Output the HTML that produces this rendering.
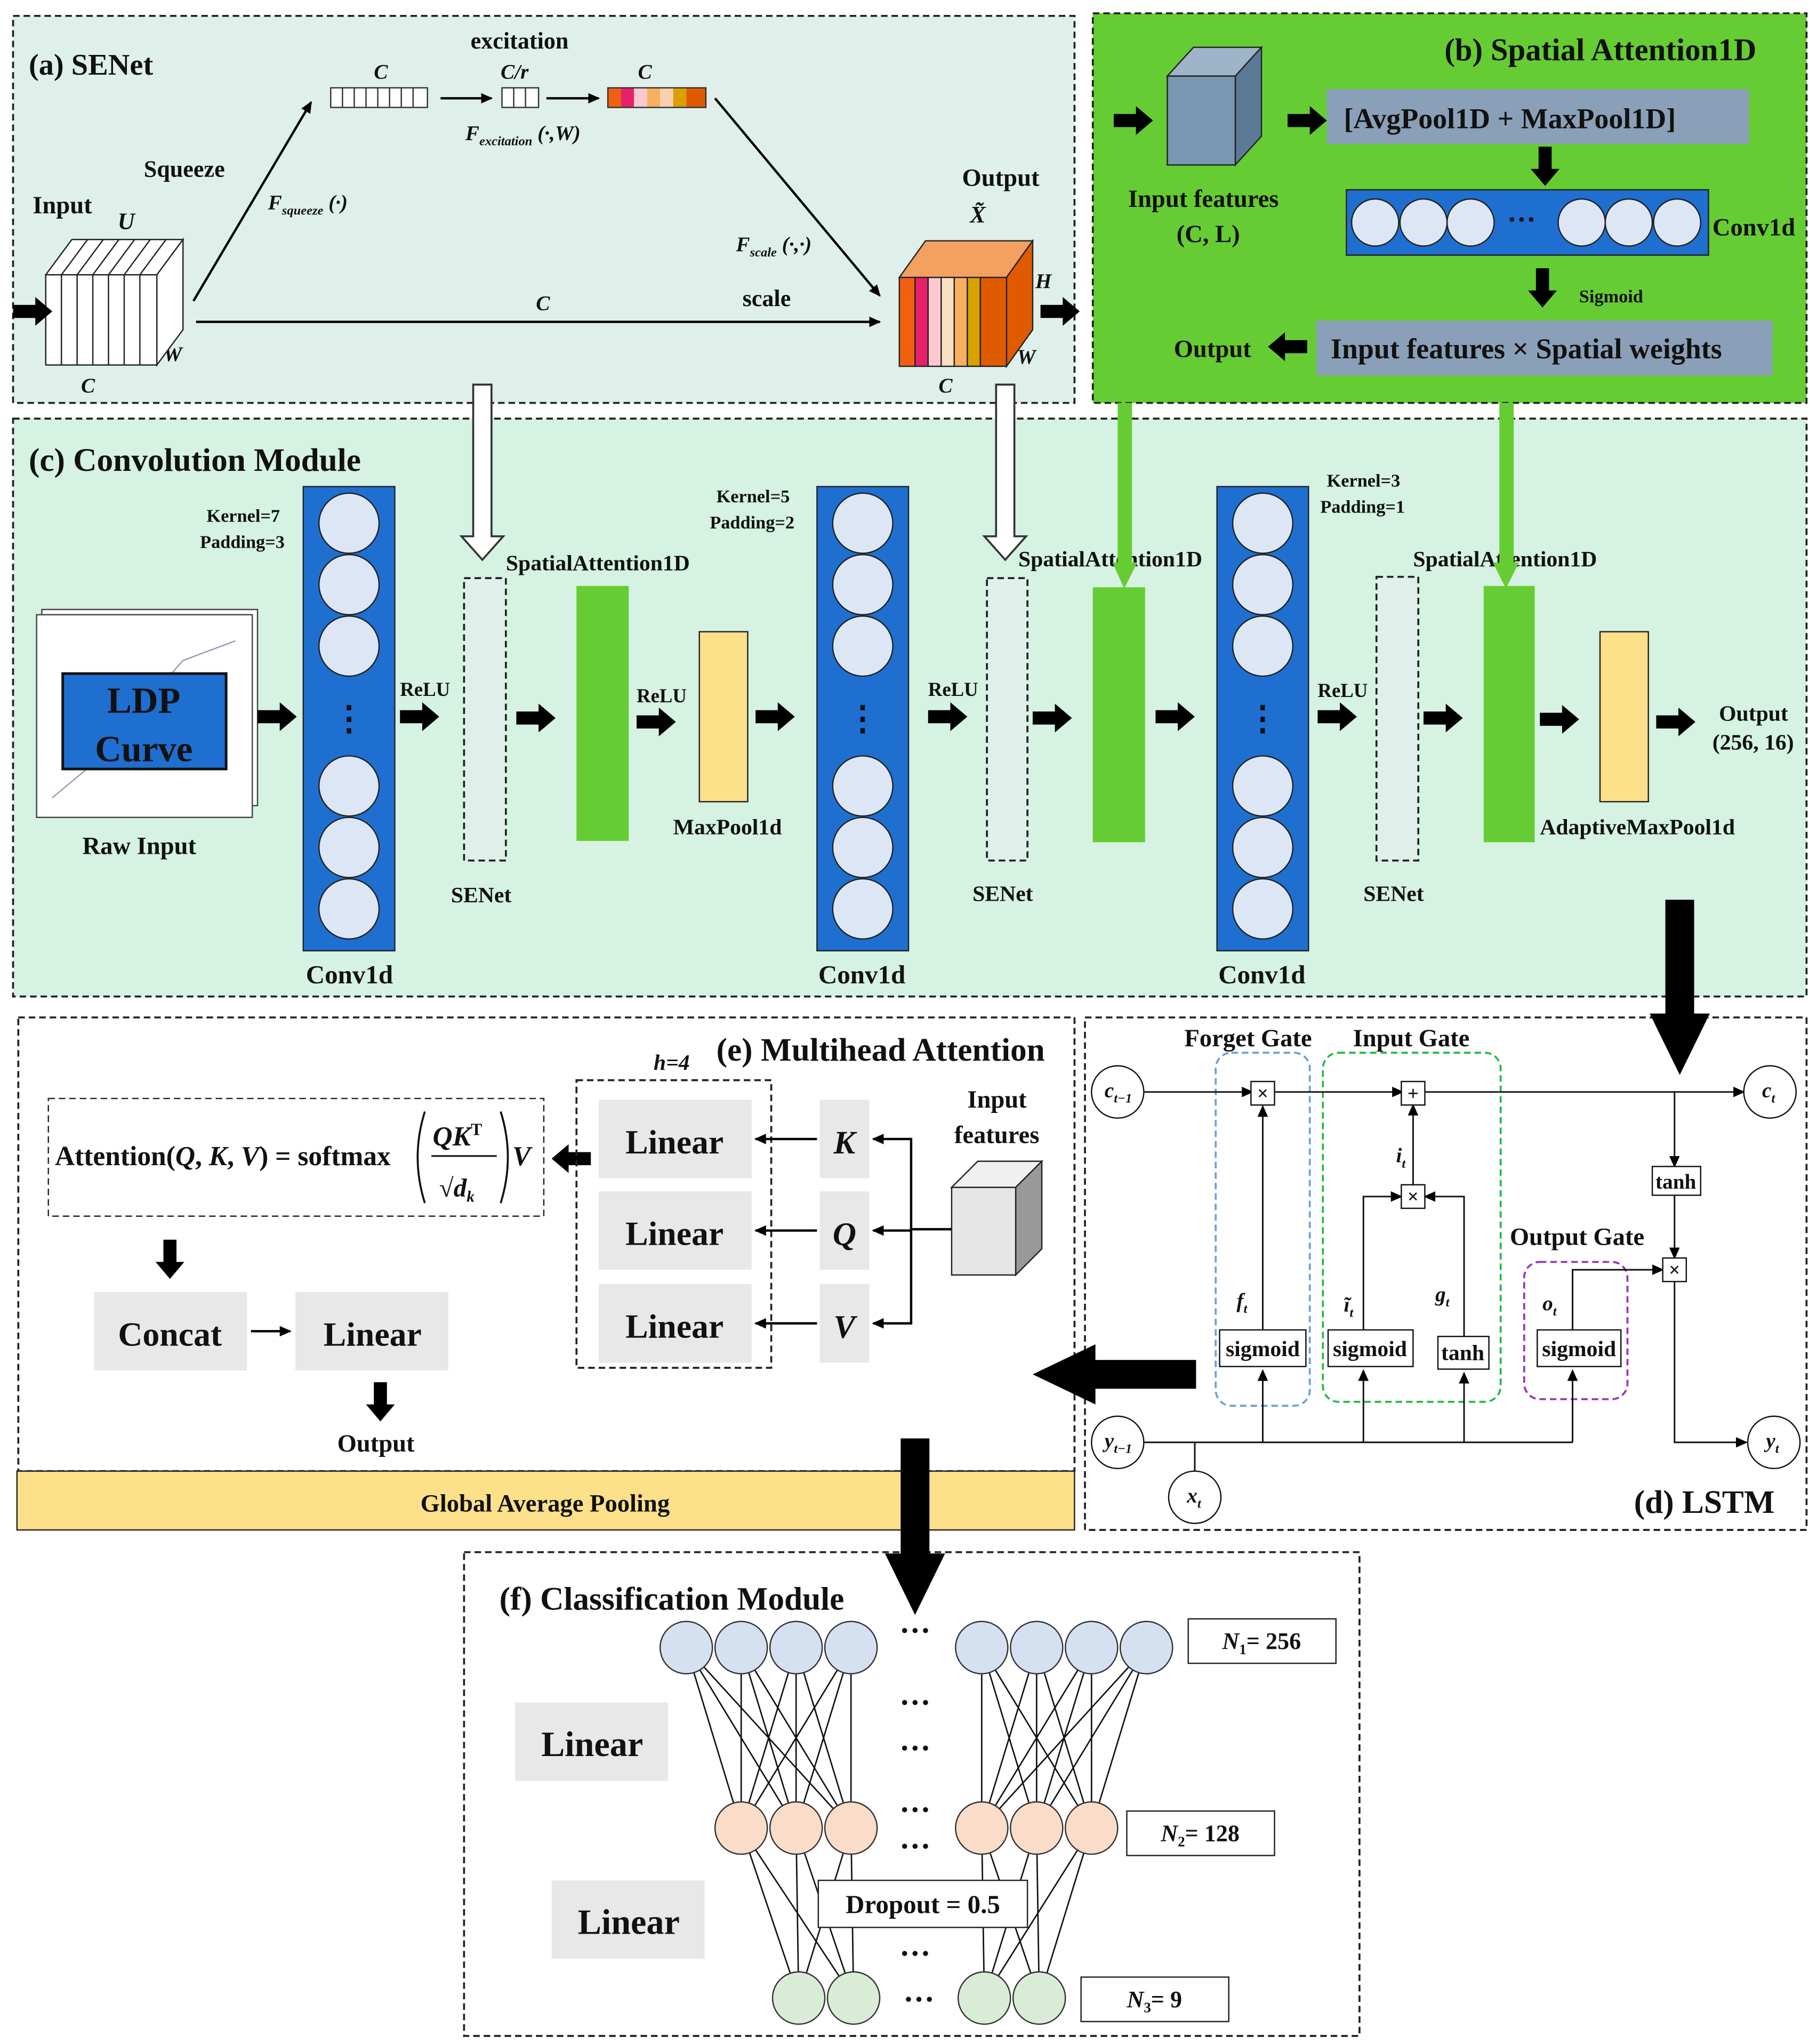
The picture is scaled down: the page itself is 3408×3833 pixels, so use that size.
<!DOCTYPE html>
<html><head><meta charset="utf-8"><style>
html,body{margin:0;padding:0;background:#fff}
svg{display:block}
text{font-family:"Liberation Serif",serif;font-weight:bold;fill:#111}
.it{font-style:italic}
</style></head><body>
<svg width="3408" height="3833" viewBox="0 0 1390 1563" xmlns="http://www.w3.org/2000/svg">
<defs>
<marker id="ah" markerWidth="10" markerHeight="10" refX="8" refY="5" orient="auto" markerUnits="userSpaceOnUse"><path d="M0,1 L9,5 L0,9 z" fill="#000"/></marker>
<g id="fa"><polygon points="0,-5 17,-5 17,-11 30,0 17,11 17,5 0,5" fill="#000"/></g>
</defs>

<!-- Panel a -->
<rect x="10" y="12" width="812" height="296" fill="#dff0ea" stroke="#222" stroke-dasharray="5,3" stroke-width="1.5"/>
<text x="22" y="57" font-size="23">(a)  SENet</text>
<text x="360" y="37" font-size="18">excitation</text>
<text x="110" y="135" font-size="18">Squeeze</text>
<text x="25" y="163" font-size="19">Input</text>
<text x="736" y="142" font-size="19">Output</text>
<text x="568" y="234" font-size="18">scale</text>
<text x="90" y="175" font-size="18" class="it">U</text>
<text x="116" y="238" font-size="16" class="it">H</text>
<text x="125" y="276" font-size="16" class="it">W</text>
<text x="62" y="300" font-size="16" class="it">C</text>
<text x="410" y="237" font-size="16" class="it">C</text>
<text x="286" y="60" font-size="16" class="it">C</text>
<text x="383" y="60" font-size="16" class="it">C/r</text>
<text x="488" y="60" font-size="16" class="it">C</text>
<text x="356" y="107" font-size="16" class="it">F<tspan font-size="10" dy="4">excitation</tspan><tspan dy="-4"> (·,W)</tspan></text>
<text x="205" y="160" font-size="16" class="it">F<tspan font-size="10" dy="4">squeeze</tspan><tspan dy="-4"> (·)</tspan></text>
<text x="563" y="192" font-size="16" class="it">F<tspan font-size="10" dy="4">scale</tspan><tspan dy="-4"> (·,·)</tspan></text>
<text x="742" y="170" font-size="18" class="it">X̃</text>
<text x="792" y="220" font-size="16" class="it">H</text>
<text x="778" y="278" font-size="16" class="it">W</text>
<text x="718" y="300" font-size="16" class="it">C</text>
<polygon points="35,210 55,183 140,183 120,210" fill="#fff" stroke="#222"/>
<polygon points="120,210 140,183 140,252 120,279" fill="#fff" stroke="#222"/>
<rect x="35" y="210" width="85" height="69" fill="#fff" stroke="#222"/>
<g stroke="#222"><line x1="47" y1="210" x2="47" y2="279"/><line x1="59" y1="210" x2="59" y2="279"/><line x1="71" y1="210" x2="71" y2="279"/><line x1="83" y1="210" x2="83" y2="279"/><line x1="95" y1="210" x2="95" y2="279"/><line x1="107" y1="210" x2="107" y2="279"/>
<line x1="67" y1="183" x2="47" y2="210"/><line x1="79" y1="183" x2="59" y2="210"/><line x1="91" y1="183" x2="71" y2="210"/><line x1="103" y1="183" x2="83" y2="210"/><line x1="115" y1="183" x2="95" y2="210"/><line x1="127" y1="183" x2="107" y2="210"/></g>
<polygon points="688,212 708,184 790,184 770,212" fill="#f3a060" stroke="#222"/>
<polygon points="770,212 790,184 790,252 770,280" fill="#e05a00" stroke="#222"/>
<rect x="688" y="212" width="12" height="68" fill="#f06010" stroke="#222"/>
<rect x="700" y="212" width="10" height="68" fill="#e8206a" stroke="#222"/>
<rect x="710" y="212" width="10" height="68" fill="#fbc8d0" stroke="#222"/>
<rect x="720" y="212" width="10" height="68" fill="#f9e0c0" stroke="#222"/>
<rect x="730" y="212" width="10" height="68" fill="#f6b060" stroke="#222"/>
<rect x="740" y="212" width="10" height="68" fill="#d9a000" stroke="#222"/>
<rect x="750" y="212" width="20" height="68" fill="#e05a00" stroke="#222"/>
<g stroke="#333" fill="#fff"><rect x="253" y="67" width="74" height="15"/><rect x="384" y="67" width="28" height="15"/></g>
<g stroke="#333"><line x1="262" y1="67" x2="262" y2="82"/><line x1="271" y1="67" x2="271" y2="82"/><line x1="280" y1="67" x2="280" y2="82"/><line x1="289" y1="67" x2="289" y2="82"/><line x1="298" y1="67" x2="298" y2="82"/><line x1="307" y1="67" x2="307" y2="82"/><line x1="316" y1="67" x2="316" y2="82"/><line x1="393" y1="67" x2="393" y2="82"/><line x1="402" y1="67" x2="402" y2="82"/></g>
<rect x="465" y="67" width="10" height="15" fill="#f06010"/><rect x="475" y="67" width="10" height="15" fill="#e8206a"/><rect x="485" y="67" width="10" height="15" fill="#fbc8d0"/><rect x="495" y="67" width="10" height="15" fill="#f6b060"/><rect x="505" y="67" width="10" height="15" fill="#fbd0b0"/><rect x="515" y="67" width="10" height="15" fill="#d9a000"/><rect x="525" y="67" width="15" height="15" fill="#e05a00"/>
<rect x="465" y="67" width="75" height="15" fill="none" stroke="#333"/>
<g stroke="#000" stroke-width="1.8" marker-end="url(#ah)" fill="none">
<line x1="148" y1="230" x2="238" y2="78"/><line x1="337" y1="75" x2="376" y2="75"/><line x1="418" y1="75" x2="458" y2="75"/>
<line x1="547" y1="75" x2="673" y2="226"/><line x1="150" y1="246" x2="673" y2="246"/></g>
<use href="#fa" x="10" y="238"/><use href="#fa" x="796" y="238"/>

<!-- Panel b -->
<rect x="836" y="10" width="546" height="298" fill="#66cc33" stroke="#222" stroke-dasharray="5,3" stroke-width="1.5"/>
<text x="1105" y="46" font-size="24">(b) Spatial Attention1D</text>
<polygon points="893,58 913,36 965,36 945,58" fill="#9db4c9" stroke="#222"/>
<polygon points="945,58 965,36 965,104 945,126" fill="#5c7a96" stroke="#222"/>
<rect x="893" y="58" width="52" height="68" fill="#7a96b0" stroke="#222"/>
<text x="863" y="158" font-size="19">Input features</text>
<text x="900" y="185" font-size="19">(C, L)</text>
<rect x="1015" y="68" width="323" height="42" fill="#8aa0b8"/>
<text x="1028" y="98" font-size="22">[AvgPool1D + MaxPool1D]</text>
<rect x="1030" y="145" width="277" height="50" fill="#1e6fd0" stroke="#222"/>
<g fill="#dce6f4" stroke="#222"><circle cx="1052" cy="170" r="18"/><circle cx="1089" cy="170" r="18"/><circle cx="1125" cy="170" r="18"/><circle cx="1210" cy="170" r="18"/><circle cx="1246" cy="170" r="18"/><circle cx="1283" cy="170" r="18"/></g>
<text x="1153" y="175" font-size="22">···</text>
<text x="1310" y="180" font-size="19">Conv1d</text>
<text x="1208" y="231" font-size="14">Sigmoid</text>
<rect x="1007" y="245" width="349" height="42" fill="#8aa0b8"/>
<text x="1018" y="274" font-size="22">Input features × Spatial weights</text>
<text x="898" y="273" font-size="19">Output</text>
<use href="#fa" x="852" y="92"/><use href="#fa" x="985" y="92"/>
<use href="#fa" transform="translate(1182,112) rotate(90)"/><use href="#fa" transform="translate(1180,205) rotate(90)"/>
<use href="#fa" transform="translate(1000,265) rotate(180)"/>

<!-- Panel c -->
<rect x="10" y="320" width="1372" height="442" fill="#d5f2e3" stroke="#222" stroke-dasharray="5,3" stroke-width="1.5"/>
<text x="22" y="360" font-size="25">(c) Convolution Module</text>
<rect x="32" y="466" width="165" height="150" fill="#fff" stroke="#444"/>
<rect x="28" y="470" width="165" height="155" fill="#fff" stroke="#444"/>
<polyline points="40,610 70,585 100,550 140,505 180,490" fill="none" stroke="#99b"/>
<rect x="48" y="515" width="125" height="73" fill="#1e6fd0" stroke="#111" stroke-width="2"/>
<text x="110" y="545" font-size="28" text-anchor="middle">LDP</text>
<text x="110" y="582" font-size="28" text-anchor="middle">Curve</text>
<text x="63" y="653" font-size="19">Raw Input</text>
<g id="cv">
<rect x="232" y="372" width="70" height="355" fill="#1e6fd0" stroke="#222"/>
<g fill="#dce6f4" stroke="#222"><circle cx="267" cy="400" r="23"/><circle cx="267" cy="447" r="23"/><circle cx="267" cy="494" r="23"/><circle cx="267" cy="601" r="23"/><circle cx="267" cy="648" r="23"/><circle cx="267" cy="695" r="23"/></g>
<text x="267" y="558" font-size="26" text-anchor="middle" fill="#000">⋮</text>
</g>
<use href="#cv" x="393"/><use href="#cv" x="699"/>
<text x="234" y="752" font-size="20">Conv1d</text><text x="626" y="752" font-size="20">Conv1d</text><text x="932" y="752" font-size="20">Conv1d</text>
<g font-size="14"><text x="158" y="399">Kernel=7</text><text x="153" y="419">Padding=3</text>
<text x="548" y="384">Kernel=5</text><text x="543" y="404">Padding=2</text>
<text x="1015" y="372">Kernel=3</text><text x="1010" y="392">Padding=1</text></g>
<g fill="#dff0ea" stroke="#222" stroke-dasharray="5,3" stroke-width="1.5"><rect x="355" y="442" width="32" height="216"/><rect x="755" y="442" width="31" height="216"/><rect x="1053" y="441" width="32" height="217"/></g>
<g font-size="17"><text x="345" y="690">SENet</text><text x="744" y="689">SENet</text><text x="1043" y="689">SENet</text>
<text x="387" y="436">SpatialAttention1D</text><text x="779" y="433">SpatialAttention1D</text><text x="1081" y="433">SpatialAttention1D</text>
<text x="515" y="638">MaxPool1d</text><text x="1178" y="638">AdaptiveMaxPool1d</text>
<text x="1315" y="551">Output</text><text x="1310" y="573">(256, 16)</text></g>
<g font-size="15"><text x="306" y="532">ReLU</text><text x="487" y="537">ReLU</text><text x="710" y="532">ReLU</text><text x="1008" y="533">ReLU</text></g>
<g fill="#66cc33"><rect x="441" y="448" width="40" height="195"/><rect x="836" y="449" width="40" height="195"/><rect x="1135" y="448" width="39" height="196"/></g>
<g fill="#fde08a" stroke="#222"><rect x="535" y="483" width="37" height="130"/><rect x="1224" y="483" width="37" height="130"/></g>
<use href="#fa" x="197" y="548"/><use href="#fa" x="306" y="548"/><use href="#fa" x="395" y="549"/><use href="#fa" x="487" y="552"/>
<use href="#fa" x="578" y="548"/><use href="#fa" x="710" y="548"/><use href="#fa" x="790" y="549"/><use href="#fa" x="884" y="548"/>
<use href="#fa" x="1008" y="548"/><use href="#fa" x="1089" y="549"/><use href="#fa" x="1178" y="550"/><use href="#fa" x="1267" y="552"/>
<g fill="#fff" stroke="#333" stroke-width="1.5">
<polygon points="362,294 376,294 376,410 385,410 369,428 353,410 362,410"/>
<polygon points="762,294 776,294 776,410 785,410 769,428 753,410 762,410"/></g>
<g fill="#66cc33"><rect x="855" y="308" width="11" height="125"/><polygon points="851,430 870,430 860,450"/>
<rect x="1147" y="308" width="11" height="125"/><polygon points="1142,430 1162,430 1152,450"/></g>

<!-- Panel e -->
<rect x="14" y="778" width="808" height="347" fill="#fff" stroke="#222" stroke-dasharray="5,3" stroke-width="1.5"/>
<rect x="13" y="1125" width="809" height="45" fill="#fde08a" stroke="#222"/>
<text x="417" y="1156" font-size="19" text-anchor="middle">Global Average Pooling</text>
<text x="548" y="811" font-size="25">(e) Multihead Attention</text>
<text x="500" y="818" font-size="17" class="it">h=4</text>
<rect x="37" y="840" width="379" height="90" fill="#fff" stroke="#222" stroke-dasharray="5,3"/>
<text x="42" y="891" font-size="21" font-weight="normal">Attention(<tspan class="it" font-weight="bold">Q</tspan>, <tspan class="it" font-weight="bold">K</tspan>, <tspan class="it" font-weight="bold">V</tspan>) = softmax</text>
<path d="M325,850 Q314,885 325,920" fill="none" stroke="#111" stroke-width="1.5"/><path d="M383,850 Q394,885 383,920" fill="none" stroke="#111" stroke-width="1.5"/>
<text x="331" y="876" font-size="21" class="it">QK<tspan font-size="13" dy="-8" font-style="normal">T</tspan></text>
<line x1="330" y1="884" x2="380" y2="884" stroke="#111" stroke-width="1.3"/>
<text x="336" y="915" font-size="20" font-weight="normal">√<tspan class="it">d<tspan font-size="12" dy="4">k</tspan></tspan></text>
<text x="392" y="891" font-size="21" class="it">V</text>
<use href="#fa" transform="translate(452,886) rotate(180)"/>
<use href="#fa" transform="translate(130,948) rotate(90)"/>
<g fill="#e8e8e8"><rect x="72" y="988" width="117" height="60"/><rect x="226" y="988" width="117" height="60"/>
<rect x="458" y="841" width="117" height="60"/><rect x="458" y="911" width="117" height="60"/><rect x="458" y="982" width="117" height="60"/>
<rect x="627" y="841" width="38" height="60"/><rect x="627" y="911" width="38" height="60"/><rect x="627" y="982" width="38" height="60"/></g>
<g font-size="26"><text x="130" y="1029" text-anchor="middle">Concat</text><text x="285" y="1029" text-anchor="middle">Linear</text>
<text x="516" y="882" text-anchor="middle">Linear</text><text x="516" y="952" text-anchor="middle">Linear</text><text x="516" y="1023" text-anchor="middle">Linear</text></g>
<g font-size="25" class="it"><text x="646" y="882" text-anchor="middle">K</text><text x="646" y="952" text-anchor="middle">Q</text><text x="646" y="1023" text-anchor="middle">V</text></g>
<line x1="192" y1="1018" x2="222" y2="1018" stroke="#000" stroke-width="1.8" marker-end="url(#ah)"/>
<use href="#fa" transform="translate(291,1057) rotate(90)"/>
<text x="258" y="1110" font-size="19">Output</text>
<rect x="441" y="826" width="149" height="220" fill="none" stroke="#222" stroke-dasharray="5,3" stroke-width="1.5"/>
<g stroke="#000" stroke-width="1.8" fill="none" marker-end="url(#ah)">
<line x1="625" y1="871" x2="578" y2="871"/><line x1="625" y1="941" x2="578" y2="941"/><line x1="625" y1="1012" x2="578" y2="1012"/>
<polyline points="728,940 697,940 697,871 668,871"/><line x1="697" y1="941" x2="668" y2="941"/><polyline points="697,940 697,1012 668,1012"/></g>
<text x="740" y="847" font-size="19">Input</text><text x="730" y="874" font-size="19">features</text>
<polygon points="728,908 748,888 797,888 777,908" fill="#f0f0f0" stroke="#222"/>
<polygon points="777,908 797,888 797,955 777,975" fill="#999" stroke="#222"/>
<rect x="728" y="908" width="49" height="67" fill="#e6e6e6" stroke="#222"/>

<!-- Panel d -->
<rect x="830" y="778" width="552" height="392" fill="#fff" stroke="#222" stroke-dasharray="5,3" stroke-width="1.5"/>
<text x="1250" y="1157" font-size="25">(d) LSTM</text>
<text x="906" y="800" font-size="19">Forget Gate</text><text x="1035" y="800" font-size="19">Input Gate</text><text x="1155" y="952" font-size="19">Output Gate</text>
<rect x="930" y="805" width="72" height="270" rx="12" fill="none" stroke="#6aa0d8" stroke-dasharray="5,3" stroke-width="1.5"/>
<rect x="1012" y="805" width="136" height="267" rx="12" fill="none" stroke="#22bb44" stroke-dasharray="5,3" stroke-width="1.5"/>
<rect x="1166" y="965" width="79" height="105" rx="12" fill="none" stroke="#9933bb" stroke-dasharray="5,3" stroke-width="1.5"/>
<g stroke="#111" stroke-width="1.2" fill="none">
<line x1="875" y1="835" x2="958" y2="835" marker-end="url(#ah)"/><line x1="975" y1="835" x2="1073" y2="835" marker-end="url(#ah)"/><line x1="1090" y1="835" x2="1334" y2="835" marker-end="url(#ah)"/>
<line x1="1281" y1="835" x2="1281" y2="892" marker-end="url(#ah)"/><line x1="1281" y1="914" x2="1281" y2="962" marker-end="url(#ah)"/>
<polyline points="1281,980 1281,1103 1336,1103" marker-end="url(#ah)"/>
<line x1="875" y1="1103" x2="1203" y2="1103"/>
<line x1="914" y1="1125" x2="914" y2="1103"/>
<line x1="966" y1="1103" x2="966" y2="1048" marker-end="url(#ah)"/><line x1="1043" y1="1103" x2="1043" y2="1048" marker-end="url(#ah)"/><line x1="1120" y1="1103" x2="1120" y2="1050" marker-end="url(#ah)"/><line x1="1203" y1="1103" x2="1203" y2="1048" marker-end="url(#ah)"/>
<line x1="966" y1="1017" x2="966" y2="846" marker-end="url(#ah)"/>
<polyline points="1043,1017 1043,915 1072,915" marker-end="url(#ah)"/>
<polyline points="1120,1022 1120,915 1090,915" marker-end="url(#ah)"/>
<line x1="1081" y1="906" x2="1081" y2="845" marker-end="url(#ah)"/>
<polyline points="1203,1017 1203,971 1272,971" marker-end="url(#ah)"/>
</g>
<g fill="#fff" stroke="#111"><circle cx="855" cy="835" r="20"/><circle cx="1354" cy="835" r="20"/><circle cx="855" cy="1103" r="20"/><circle cx="1357" cy="1103" r="20"/><circle cx="914" cy="1145" r="20"/>
<rect x="957" y="827" width="18" height="18"/><rect x="1072" y="827" width="18" height="18"/><rect x="1072" y="906" width="18" height="18"/><rect x="1272" y="962" width="18" height="18"/>
<rect x="1264" y="892" width="37" height="22"/><rect x="933" y="1017" width="66" height="28"/><rect x="1016" y="1017" width="65" height="28"/><rect x="1100" y="1022" width="39" height="25"/><rect x="1176" y="1017" width="64" height="28"/></g>
<g><text x="966" y="841" font-size="15" text-anchor="middle" font-weight="normal">×</text><text x="1081" y="841" font-size="15" text-anchor="middle" font-weight="normal">+</text><text x="1081" y="920" font-size="15" text-anchor="middle" font-weight="normal">×</text><text x="1281" y="976" font-size="15" text-anchor="middle" font-weight="normal">×</text>
<text x="1282" y="909" font-size="16" text-anchor="middle" font-weight="normal">tanh</text>
<text x="966" y="1037" font-size="17" text-anchor="middle" font-weight="normal">sigmoid</text><text x="1048" y="1037" font-size="17" text-anchor="middle" font-weight="normal">sigmoid</text><text x="1119" y="1040" font-size="17" text-anchor="middle" font-weight="normal">tanh</text><text x="1208" y="1037" font-size="17" text-anchor="middle" font-weight="normal">sigmoid</text></g>
<g font-size="16" class="it">
<text x="845" y="839" font-weight="normal">c<tspan font-size="10" dy="4">t−1</tspan></text><text x="1348" y="839" font-weight="normal">c<tspan font-size="10" dy="4">t</tspan></text>
<text x="845" y="1107" font-weight="normal">y<tspan font-size="10" dy="4">t−1</tspan></text><text x="1351" y="1107" font-weight="normal">y<tspan font-size="10" dy="4">t</tspan></text><text x="908" y="1149" font-weight="normal">x<tspan font-size="10" dy="4">t</tspan></text>
<text x="946" y="1000" font-weight="normal">f<tspan font-size="10" dy="4">t</tspan></text><text x="1028" y="1003" font-weight="normal">ĩ<tspan font-size="10" dy="4">t</tspan></text><text x="1098" y="995" font-weight="normal">g<tspan font-size="10" dy="4">t</tspan></text><text x="1068" y="889" font-weight="normal">i<tspan font-size="10" dy="4">t</tspan></text><text x="1180" y="1002" font-weight="normal">o<tspan font-size="10" dy="4">t</tspan></text></g>

<polygon points="1274,688 1296,688 1296,775 1308,775 1285,822 1262,775 1274,775" fill="#000"/>
<polygon points="915,1040 915,1062 838,1062 838,1074 790,1051 838,1028 838,1040" fill="#000"/>

<!-- Panel f -->
<rect x="355" y="1187" width="685" height="370" fill="#fff" stroke="#222" stroke-dasharray="5,3" stroke-width="1.5"/>
<text x="382" y="1231" font-size="25">(f) Classification Module</text>
<g fill="#e8e8e8"><rect x="394" y="1302" width="117" height="60"/><rect x="422" y="1438" width="117" height="60"/></g>
<text x="453" y="1343" font-size="27" text-anchor="middle">Linear</text><text x="481" y="1479" font-size="27" text-anchor="middle">Linear</text>
<g stroke="#111" stroke-width="1.1">
<path d="M525,1260L567,1398M525,1260L609,1398M525,1260L651,1398M567,1260L567,1398M567,1260L609,1398M567,1260L651,1398M609,1260L567,1398M609,1260L609,1398M609,1260L651,1398M651,1260L567,1398M651,1260L609,1398M651,1260L651,1398"/>
<path d="M751,1260L751,1398M751,1260L793,1398M751,1260L835,1398M793,1260L751,1398M793,1260L793,1398M793,1260L835,1398M835,1260L751,1398M835,1260L793,1398M835,1260L835,1398M877,1260L751,1398M877,1260L793,1398M877,1260L835,1398"/>
<path d="M567,1398L611,1528M567,1398L653,1528M609,1398L611,1528M609,1398L653,1528M651,1398L611,1528M651,1398L653,1528"/>
<path d="M751,1398L753,1528M751,1398L795,1528M793,1398L753,1528M793,1398L795,1528M835,1398L753,1528M835,1398L795,1528"/>
</g>
<g stroke="#333" fill="#d5e0f0"><circle cx="525" cy="1260" r="20"/><circle cx="567" cy="1260" r="20"/><circle cx="609" cy="1260" r="20"/><circle cx="651" cy="1260" r="20"/><circle cx="751" cy="1260" r="20"/><circle cx="793" cy="1260" r="20"/><circle cx="835" cy="1260" r="20"/><circle cx="877" cy="1260" r="20"/></g>
<g stroke="#333" fill="#fbdcc8"><circle cx="567" cy="1398" r="20"/><circle cx="609" cy="1398" r="20"/><circle cx="651" cy="1398" r="20"/><circle cx="751" cy="1398" r="20"/><circle cx="793" cy="1398" r="20"/><circle cx="835" cy="1398" r="20"/></g>
<g stroke="#333" fill="#d8ecd6"><circle cx="611" cy="1528" r="20"/><circle cx="653" cy="1528" r="20"/><circle cx="753" cy="1528" r="20"/><circle cx="795" cy="1528" r="20"/></g>
<g font-size="24" text-anchor="middle"><text x="700" y="1310">···</text><text x="700" y="1345">···</text><text x="700" y="1392">···</text><text x="700" y="1420">···</text><text x="700" y="1502">···</text><text x="703" y="1537">···</text><text x="700" y="1255">···</text></g>
<rect x="626" y="1438" width="160" height="36" fill="#fff" stroke="#222"/>
<text x="706" y="1463" font-size="20" text-anchor="middle">Dropout = 0.5</text>
<g fill="#fff" stroke="#222"><rect x="909" y="1238" width="113" height="34"/><rect x="862" y="1385" width="113" height="34"/><rect x="827" y="1512" width="113" height="34"/></g>
<g font-size="18"><text x="935" y="1261"><tspan class="it">N</tspan><tspan font-size="11" dy="4">1</tspan><tspan dy="-4">= 256</tspan></text>
<text x="888" y="1408"><tspan class="it">N</tspan><tspan font-size="11" dy="4">2</tspan><tspan dy="-4">= 128</tspan></text>
<text x="862" y="1535"><tspan class="it">N</tspan><tspan font-size="11" dy="4">3</tspan><tspan dy="-4">= 9</tspan></text></g>

<!-- e -> f arrow on top -->
<polygon points="689,1100 711,1100 711,1188 723,1188 700,1235 677,1188 689,1188" fill="#000"/>
</svg>
</body></html>
